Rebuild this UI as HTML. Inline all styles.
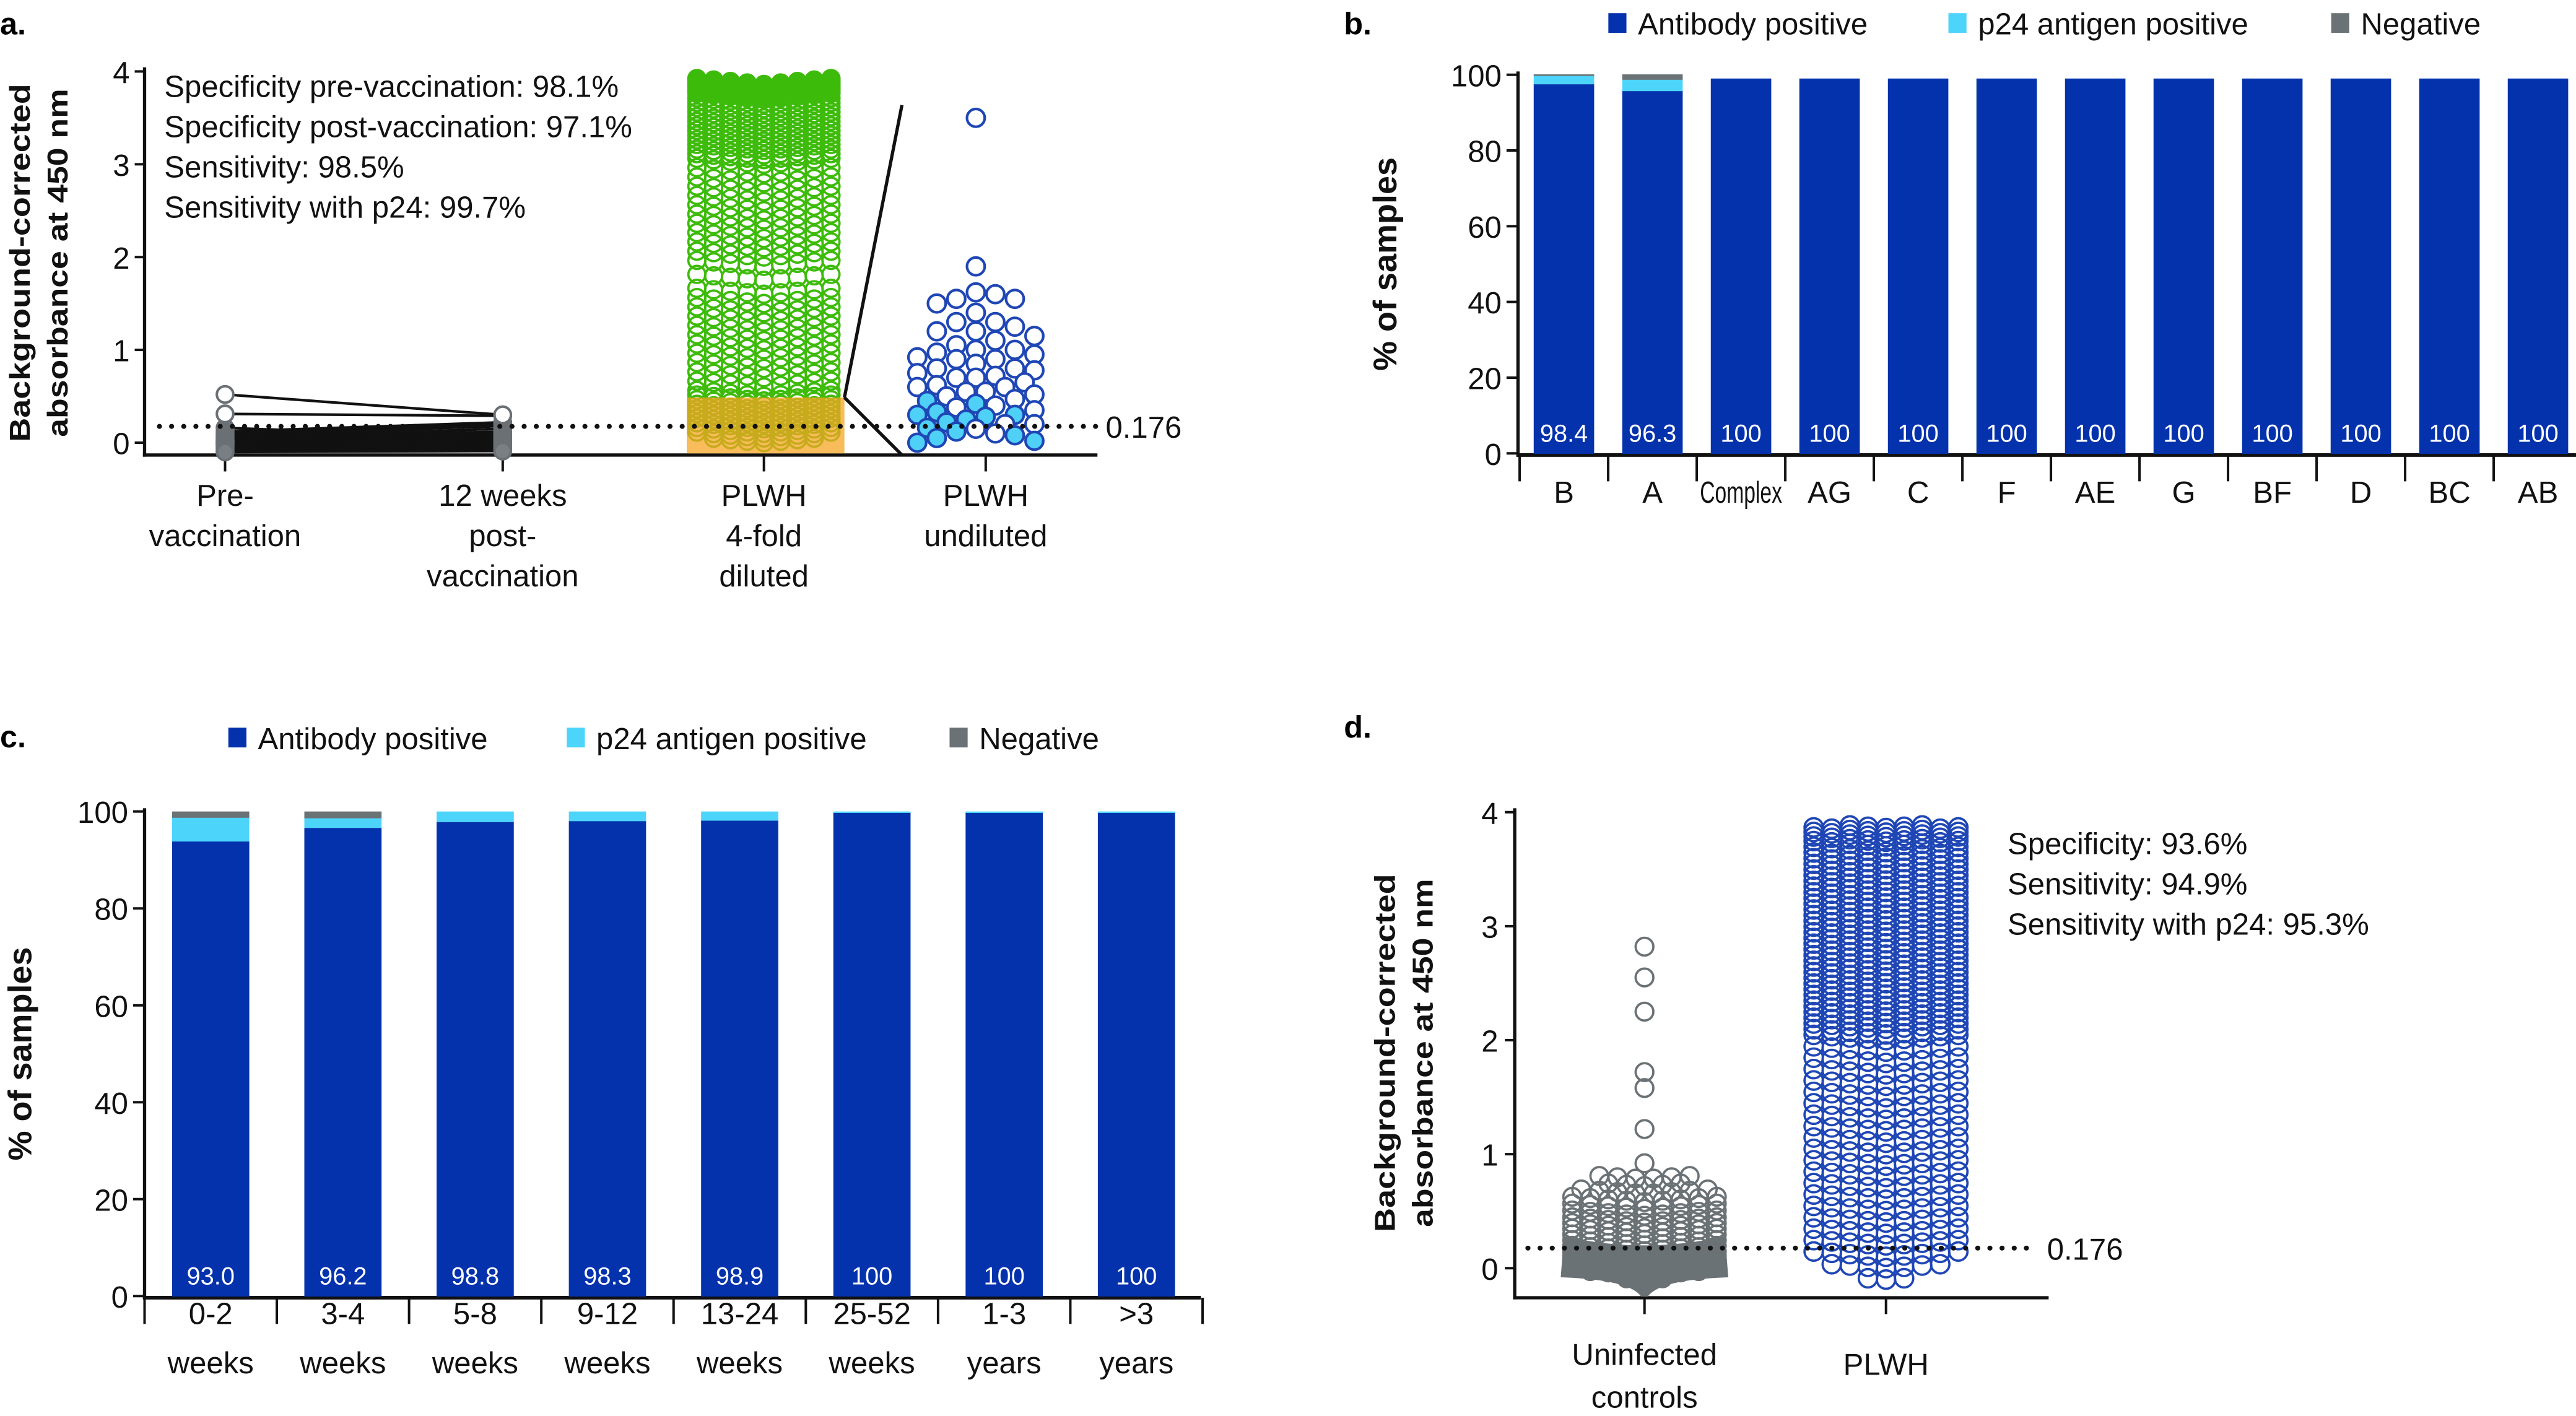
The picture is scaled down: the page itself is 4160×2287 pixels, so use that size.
<!DOCTYPE html>
<html><head><meta charset="utf-8"><style>
html,body{margin:0;padding:0;background:#fff;}
svg{display:block;}
text{font-family:"Liberation Sans",sans-serif;}
.t{font-size:18.5px;fill:#111;}
.b{font-weight:bold;font-size:17.5px;fill:#111;}
</style></head><body>
<svg id="fig" width="4160" height="2287" viewBox="0 0 1568 862" preserveAspectRatio="none" xmlns="http://www.w3.org/2000/svg">
<rect width="1568" height="862" fill="#fff"/>
<g id="pa"></g>
<g id="pb"></g>
<g id="pc"></g>
<g id="pd"></g>
</svg>
<script>
// ---------- data ----------
const aPre = [0.52,0.31,0.16,0.12,0.1,0.08,0.06,0.05,0.03,0.02,0.01,0,0,-0.01,-0.02,-0.03,-0.05,-0.07,-0.09,-0.1];
const aPost = [0.3,0.29,0.05,0.22,0.2,0.18,0.15,0.12,0.1,0.08,0.06,0.05,0.03,0.02,0,-0.01,-0.03,-0.05,-0.07,-0.09];
const aGreenLevels = [3.86,3.84,3.82,3.8,3.78,3.76,3.74,3.72,3.7,3.65,3.6,3.55,3.5,3.45,3.4,3.35,3.3,3.25,3.2,3.15,3.1,3.05,3.0,2.9,2.8,2.7,2.6,2.5,2.4,2.3,2.2,2.1,2.0,1.9,1.75,1.6,1.5,1.4,1.3,1.2,1.1,1.0,0.9,0.8,0.7,0.6,0.5,0.45,0.4,0.35,0.3,0.25,0.2,0.15,0.1,0.05,0.0];
const aGreenCounts = [9,9,9,9,9,9,9,9,9,9,9,9,9,9,9,9,9,9,9,9,9,9,9,9,9,9,9,9,9,9,9,9,9,9,9,9,9,9,9,9,9,9,9,9,9,9,9,9,9,9,9,9,9,9,9,9,7];
const aBlue = [3.5,1.9,1.62,1.6,1.55,1.55,1.5,1.4,1.3,1.3,1.25,1.2,1.2,1.15,1.1,1.05,1.0,1.0,0.97,0.95,0.92,0.9,0.9,0.85,0.8,0.8,0.78,0.75,0.72,0.7,0.7,0.65,0.62,0.6,0.6,0.55,0.55,0.52,0.5,0.47,0.45,0.42,0.4,0.38,0.35,0.33,0.3,0.3,0.28,0.25,0.22,0.2,0.2,0.16,0.15,0.12,0.1,0.08,0.05,0.02,0.0];
const aBlueFilled = [0.45,0.42,0.33,0.3,0.28,0.25,0.22,0.16,0.12,0.08,0.05,0.02,0.0];

const bCats = ["B","A","Complex","AG","C","F","AE","G","BF","D","BC","AB"];
const bAb = [97.6,95.8,99,99,99,99,99,99,99,99,99,99];
const bP24 = [2.2,3.0,0,0,0,0,0,0,0,0,0,0];
const bNeg = [0.3,1.3,0,0,0,0,0,0,0,0,0,0];
const bLabels = ["98.4","96.3","100","100","100","100","100","100","100","100","100","100"];

const cCats = [["0-2","weeks"],["3-4","weeks"],["5-8","weeks"],["9-12","weeks"],["13-24","weeks"],["25-52","weeks"],["1-3","years"],[">3","years"]];
const cAb = [93.9,96.7,97.9,98.1,98.2,99.8,99.8,99.8];
const cP24 = [4.9,2.0,2.1,1.9,1.8,0.2,0.2,0.2];
const cNeg = [1.2,1.3,0,0,0,0,0,0];
const cLabels = ["93.0","96.2","98.8","98.3","98.9","100","100","100"];

const dGrayLevels = [2.82,2.55,2.25,1.72,1.58,1.22,0.92,0.78,0.72,0.65,0.58,0.52,0.46,0.4,0.35,0.3,0.25,0.2,0.15,0.1,0.06,0.03,0.0,-0.03,-0.06,-0.1,-0.15];
const dGrayCounts = [1,1,1,1,1,1,1,6,5,8,9,9,9,9,9,9,9,9,9,9,9,9,9,9,7,3,1];
const dBlueLevels = [3.86,3.82,3.78,3.74,3.7,3.65,3.6,3.55,3.5,3.45,3.4,3.35,3.3,3.25,3.2,3.15,3.1,3.05,3.0,2.95,2.9,2.85,2.8,2.75,2.7,2.65,2.6,2.55,2.5,2.45,2.4,2.35,2.3,2.25,2.2,2.15,2.1,2.05,2.0,1.9,1.8,1.7,1.6,1.5,1.4,1.3,1.2,1.1,1.0,0.9,0.8,0.7,0.6,0.5,0.4,0.3,0.2,0.1,0.0,-0.1];
const dBlueCounts = [5,9,9,9,9,9,9,9,9,9,9,9,9,9,9,9,9,9,9,9,9,9,9,9,9,9,9,9,9,9,9,9,9,9,9,9,9,9,9,9,9,9,9,9,9,9,9,9,9,9,9,9,9,9,9,9,9,9,7,3];

// ---------- helpers ----------
const NS="http://www.w3.org/2000/svg";
function mk(parent,tag,attrs,txt){const e=document.createElementNS(NS,tag);for(const k in attrs)e.setAttribute(k,attrs[k]);if(txt!==undefined)e.textContent=txt;parent.appendChild(e);return e;}
function rowSwarm(g,levels,counts,cx,ys,r,stroke,fill,name,spacing,chev){
  levels.forEach((v,i)=>{const n=counts[i];for(let j=0;j<n;j++){const off=(j-(n-1)/2);
    const c=mk(g,'circle',{cx:cx+off*spacing,cy:ys(v)-Math.abs(off)*chev,r:r,fill:fill,stroke:stroke,'stroke-width':1.4});
    
    }});
}
function swarm(vals,cx,ys,r,maxk){const placed=[];const out=[];
  vals.forEach(v=>{const y=ys(v);let best=null,bestd=-1;
    for(let k=0;k<=maxk;k++){const cands=k===0?[0]:[k,-k];let done=false;
      for(const o of cands){const xx=cx+o*r*1.1;
        let md=Infinity;placed.forEach(p=>{md=Math.min(md,Math.hypot(p[0]-xx,p[1]-y));});
        if(md>=2*r*0.98){best=xx;done=true;break;}
        if(md>bestd){bestd=md;best=xx;}}
      if(done)break;}
    placed.push([best,y]);out.push([best,y,v]);});return out;}

// ---------- panel a ----------
(function(){
const g=document.getElementById('pa');
const ya=v=>269.5-v*56.5;
const xcat=[137,306,465,600];
mk(g,'text',{x:0,y:21,style:'font-weight:bold;font-size:19px',},'a.');
const t=mk(g,'g',{});
mk(t,'text',{class:'b',transform:'translate(18,160) rotate(-90)','text-anchor':'middle',textLength:218,lengthAdjust:'spacingAndGlyphs'},'Background-corrected');
mk(t,'text',{class:'b',transform:'translate(41,160) rotate(-90)','text-anchor':'middle',textLength:212,lengthAdjust:'spacingAndGlyphs'},'absorbance at 450 nm');
mk(g,'line',{x1:88,y1:41,x2:88,y2:278,stroke:'#111','stroke-width':2,});
mk(g,'line',{x1:87,y1:277,x2:668,y2:277,stroke:'#111','stroke-width':2,});
[0,1,2,3,4].forEach(v=>{mk(g,'line',{x1:82,y1:ya(v),x2:88,y2:ya(v),stroke:'#111','stroke-width':1.5});
  mk(g,'text',{class:'t',x:79,y:ya(v)+7,'text-anchor':'end',},String(v));});
xcat.forEach(x=>mk(g,'line',{x1:x,y1:277,x2:x,y2:287,stroke:'#111','stroke-width':1.5}));
const labs=[["Pre-","vaccination"],["12 weeks","post-","vaccination"],["PLWH","4-fold","diluted"],["PLWH","undiluted"]];
labs.forEach((l,i)=>l.forEach((s,k)=>mk(g,'text',{class:'t',x:xcat[i],y:308+k*24.5,'text-anchor':'middle',},s)));
["Specificity pre-vaccination: 98.1%","Specificity post-vaccination: 97.1%","Sensitivity: 98.5%","Sensitivity with p24: 99.7%"].forEach((s,i)=>
  mk(g,'text',{class:'t',x:100,y:59+i*24.5,},s));
aPre.forEach((v,i)=>mk(g,'line',{x1:137,y1:ya(v),x2:306,y2:ya(aPost[i]),stroke:'#111','stroke-width':1.6,}));
aPre.forEach(v=>{const c=mk(g,'circle',{cx:137,cy:ya(v),r:5,fill:'#7a7f83',stroke:'#6b7075','stroke-width':1.5});});
aPost.forEach(v=>{const c=mk(g,'circle',{cx:306,cy:ya(v),r:5,fill:'#7a7f83',stroke:'#6b7075','stroke-width':1.5});});
mk(g,'circle',{cx:137,cy:ya(0.52),r:5,fill:'#fff',stroke:'#6b7075','stroke-width':1.5});
mk(g,'circle',{cx:137,cy:ya(0.31),r:5,fill:'#fff',stroke:'#6b7075','stroke-width':1.5});
mk(g,'circle',{cx:306,cy:ya(0.3),r:5,fill:'#fff',stroke:'#6b7075','stroke-width':1.5});
rowSwarm(g,aGreenLevels,aGreenCounts,465,ya,5.2,'#3dbb0a','none','diluted-point',10.2,0.9);
mk(g,'rect',{x:418,y:242,width:96,height:34,fill:'#f5a623','fill-opacity':0.75,});
mk(g,'line',{x1:514,y1:242,x2:549,y2:64,stroke:'#111','stroke-width':2,});
mk(g,'line',{x1:514,y1:242,x2:549,y2:277,stroke:'#111','stroke-width':2,});
swarm(aBlue,594,ya,5.4,6).forEach(p=>{const f=aBlueFilled.includes(p[2]);
  const c=mk(g,'circle',{cx:p[0],cy:p[1],r:5.4,fill:f?'#4fd0f7':'#fff',stroke:'#1f46b5','stroke-width':1.6});
  });
mk(g,'line',{x1:97,y1:ya(0.176),x2:668,y2:ya(0.176),stroke:'#111','stroke-width':3,'stroke-dasharray':'0.1 7.3','stroke-linecap':'round',});
mk(g,'text',{class:'t',x:673,y:ya(0.176)+7,},'0.176');
})();

// ---------- stacked bar helper ----------
function stacked(g,o){
  const ys=v=>o.y0-v*(o.y0-o.y100)/100;
  mk(g,'line',{x1:o.ax,y1:o.y100-2,x2:o.ax,y2:o.y0+2,stroke:'#111','stroke-width':2});
  mk(g,'line',{x1:o.ax-1,y1:o.y0+1,x2:o.xend,y2:o.y0+1,stroke:'#111','stroke-width':2.2,});
  [0,20,40,60,80,100].forEach(v=>{mk(g,'line',{x1:o.ax-7,y1:ys(v),x2:o.ax,y2:ys(v),stroke:'#111','stroke-width':1.5});
    mk(g,'text',{class:'t',x:o.ax-10,y:ys(v)+7,'text-anchor':'end',},String(v));});
  o.cats.forEach((c,i)=>{const cx=o.x0+o.step*(i+0.5);const x=cx-o.bw/2;
    let base=0;
    [[o.ab[i],'#0432ad','bar-antibody-positive'],[o.p24[i],'#4dd4fb','bar-p24-positive'],[o.neg[i],'#6b7276','bar-negative']].forEach(s=>{
      if(s[0]>0){const r=mk(g,'rect',{x:x,y:ys(base+s[0]),width:o.bw,height:ys(base)-ys(base+s[0])+0.3,fill:s[1]});
        }
      base+=s[0];});
    mk(g,'text',{x:cx,y:o.y0-7,'text-anchor':'middle',style:'font-size:15px;fill:#fff',},o.labels[i]);
    mk(g,'line',{x1:o.x0+o.step*i,y1:o.y0+1,x2:o.x0+o.step*i,y2:o.y0+17,stroke:'#111','stroke-width':1.5});
    const lines=Array.isArray(c)?c:[c];
    lines.forEach((s,k)=>{const a={class:'t',x:cx,y:o.ly+k*30,'text-anchor':'middle',};
      if(s==='Complex'){a.textLength=50;a.lengthAdjust='spacingAndGlyphs';}
      mk(g,'text',a,s);});
  });
  mk(g,'line',{x1:o.x0+o.step*o.cats.length,y1:o.y0+1,x2:o.x0+o.step*o.cats.length,y2:o.y0+17,stroke:'#111','stroke-width':1.5});
  const L=[['Antibody positive','#0432ad'],['p24 antigen positive','#4dd4fb'],['Negative','#6b7276']];
  L.forEach((l,i)=>{const lg=mk(g,'g',{});
    mk(lg,'rect',{x:o.lx[i],y:o.legy-12,width:11,height:12,fill:l[1]});
    mk(lg,'text',{class:'t',x:o.lx[i]+18,y:o.legy+1},l[0]);});
  mk(g,'text',{class:'b',style:'font-size:20px',transform:`translate(${o.tx},${(o.y0+o.y100)/2}) rotate(-90)`,'text-anchor':'middle',textLength:o.tl,lengthAdjust:'spacingAndGlyphs',},'% of samples');
}
(function(){const g=document.getElementById('pb');
mk(g,'text',{x:818,y:21,style:'font-weight:bold;font-size:19px',},'b.');
stacked(g,{cats:bCats,ab:bAb,p24:bP24,neg:bNeg,labels:bLabels,ax:924,y0:276,y100:45.5,x0:925,step:53.9,bw:36.8,xend:1568,ly:306,lx:[979,1186,1419],legy:20,tx:850,tl:130});
})();
(function(){const g=document.getElementById('pc');
mk(g,'text',{x:0,y:455,style:'font-weight:bold;font-size:19px',},'c.');
stacked(g,{cats:cCats,ab:cAb,p24:cP24,neg:cNeg,labels:cLabels,ax:88,y0:789,y100:494,x0:88,step:80.5,bw:47,xend:731,ly:806,lx:[139,345,578],legy:455,tx:19,tl:130});
})();

// ---------- panel d ----------
(function(){
const g=document.getElementById('pd');
const yd=v=>772-v*69.4;
mk(g,'text',{x:818,y:449,style:'font-weight:bold;font-size:19px',},'d.');
const t=mk(g,'g',{});
mk(t,'text',{class:'b',transform:'translate(849,641) rotate(-90)','text-anchor':'middle',textLength:218,lengthAdjust:'spacingAndGlyphs'},'Background-corrected');
mk(t,'text',{class:'b',transform:'translate(872,641) rotate(-90)','text-anchor':'middle',textLength:212,lengthAdjust:'spacingAndGlyphs'},'absorbance at 450 nm');
mk(g,'line',{x1:922,y1:492,x2:922,y2:791,stroke:'#111','stroke-width':2,});
mk(g,'line',{x1:921,y1:790,x2:1247,y2:790,stroke:'#111','stroke-width':2,});
[0,1,2,3,4].forEach(v=>{mk(g,'line',{x1:916,y1:yd(v),x2:922,y2:yd(v),stroke:'#111','stroke-width':1.5});
  mk(g,'text',{class:'t',x:912,y:yd(v)+7,'text-anchor':'end',},String(v));});
[1001,1148].forEach(x=>mk(g,'line',{x1:x,y1:790,x2:x,y2:800,stroke:'#111','stroke-width':1.5}));
[["Uninfected","controls"],["PLWH"]].forEach((l,i)=>l.forEach((s,k)=>mk(g,'text',{class:'t',x:[1001,1148][i],y:[831,837][i]+k*26,'text-anchor':'middle',},s)));
rowSwarm(g,dGrayLevels,dGrayCounts,1001,yd,5.4,'#6b7276','none','uninfected-point',11,0.8);
mk(g,'path',{d:`M952 ${yd(0.28)} Q1001 ${yd(0.12)} 1050 ${yd(0.28)} L1052 ${yd(-0.08)} Q1010 ${yd(-0.1)} 1003 ${yd(-0.25)} L999 ${yd(-0.25)} Q992 ${yd(-0.1)} 950 ${yd(-0.08)} Z`,fill:'#6b7276',});
rowSwarm(g,dBlueLevels,dBlueCounts,1148,yd,5.6,'#1f46b5','none','plwh-point',11,0.8);
mk(g,'line',{x1:930,y1:yd(0.176),x2:1240,y2:yd(0.176),stroke:'#111','stroke-width':3,'stroke-dasharray':'0.1 7.3','stroke-linecap':'round',});
mk(g,'text',{class:'t',x:1246,y:yd(0.176)+7,},'0.176');
["Specificity: 93.6%","Sensitivity: 94.9%","Sensitivity with p24: 95.3%"].forEach((s,i)=>
  mk(g,'text',{class:'t',x:1222,y:520+i*24.5,},s));
})();
</script>
</body></html>
